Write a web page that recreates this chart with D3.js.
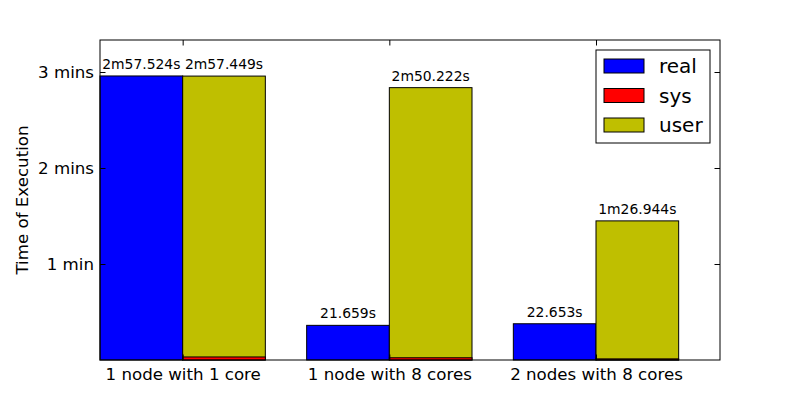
<!DOCTYPE html>
<html>
<head>
<meta charset="utf-8">
<script src="https://cdn.jsdelivr.net/npm/d3@7"></script>
<style>
  body { margin: 0; background: #fff; }
  text { font-family: "DejaVu Sans", sans-serif; }
</style>
</head>
<body>
<div id="wrapper"></div>
<script>
const categories = ["1 node with 1 core", "1 node with 8 cores", "2 nodes with 8 cores"]
const realSecs = [177.524, 21.659, 22.653]
const sysSecs = [1.9, 1.4, 0.7]
const userSecs = [177.449, 170.222, 86.944]
const realLabels = ["2m57.524s", "21.659s", "22.653s"]
const userLabels = ["2m57.449s", "2m50.222s", "1m26.944s"]
const yTicks = [60, 120, 180]
const yTickLabels = ["1 min", "2 mins", "3 mins"]
const seriesNames = ["real", "sys", "user"]
const seriesColors = ["#0000ff", "#ff0000", "#bfbf00"]

function drawChart() {
  let dimensions = {
    width: 800,
    height: 400,
    margin: { top: 40, right: 80, bottom: 40, left: 100 },
  }
  dimensions.boundedWidth = dimensions.width - dimensions.margin.left - dimensions.margin.right
  dimensions.boundedHeight = dimensions.height - dimensions.margin.top - dimensions.margin.bottom

  const wrapper = d3.select("#wrapper")
    .append("svg")
    .attr("width", dimensions.width)
    .attr("height", dimensions.height)

  const bounds = wrapper.append("g")
    .attr("transform", `translate(${dimensions.margin.left},${dimensions.margin.top})`)

  const barWidth = 0.4
  const xScale = d3.scaleLinear()
    .domain([0, categories.length])
    .range([0, dimensions.boundedWidth])
  const yScale = d3.scaleLinear()
    .domain([0, 200])
    .range([dimensions.boundedHeight, 0])

  const bw = xScale(barWidth) - xScale(0)

  // real bars
  bounds.selectAll(".real")
    .data(realSecs)
    .enter().append("rect")
    .attr("x", (d, i) => xScale(i))
    .attr("y", d => yScale(d))
    .attr("width", bw)
    .attr("height", d => yScale(0) - yScale(d))
    .attr("fill", seriesColors[0])
    .attr("stroke", "black")
    .attr("stroke-width", 1)

  // user bars
  bounds.selectAll(".user")
    .data(userSecs)
    .enter().append("rect")
    .attr("x", (d, i) => xScale(i + barWidth))
    .attr("y", d => yScale(d))
    .attr("width", bw)
    .attr("height", d => yScale(0) - yScale(d))
    .attr("fill", seriesColors[2])
    .attr("stroke", "black")
    .attr("stroke-width", 1)

  // sys bars
  bounds.selectAll(".sys")
    .data(sysSecs)
    .enter().append("rect")
    .attr("x", (d, i) => xScale(i + barWidth))
    .attr("y", d => yScale(d))
    .attr("width", bw)
    .attr("height", d => yScale(0) - yScale(d))
    .attr("fill", seriesColors[1])
    .attr("stroke", "black")
    .attr("stroke-width", 1)

  // value labels
  bounds.selectAll(".realLabel")
    .data(realSecs)
    .enter().append("text")
    .attr("x", (d, i) => xScale(i + barWidth / 2))
    .attr("y", d => yScale(d) - 7)
    .attr("text-anchor", "middle")
    .style("font-size", "13.9px")
    .text((d, i) => realLabels[i])
  bounds.selectAll(".userLabel")
    .data(userSecs)
    .enter().append("text")
    .attr("x", (d, i) => xScale(i + barWidth * 1.5))
    .attr("y", d => yScale(d) - 7)
    .attr("text-anchor", "middle")
    .style("font-size", "13.9px")
    .text((d, i) => userLabels[i])

  // frame
  bounds.append("rect")
    .attr("width", dimensions.boundedWidth)
    .attr("height", dimensions.boundedHeight)
    .attr("fill", "none")
    .attr("stroke", "black")
    .attr("stroke-width", 1)

  const tickLen = 5.5
  const xTickPos = categories.map((c, i) => i + barWidth)

  // x axis, inward ticks bottom and top
  const xAxis = bounds.append("g")
    .attr("transform", `translate(0,${dimensions.boundedHeight})`)
    .call(d3.axisBottom(xScale)
      .tickValues(xTickPos)
      .tickFormat((d, i) => categories[i])
      .tickSizeInner(-tickLen)
      .tickSizeOuter(0)
      .tickPadding(8))
  xAxis.select(".domain").remove()
  xAxis.selectAll("text").style("font-size", "16.67px").attr("fill", "black")

  const xAxisTop = bounds.append("g")
    .call(d3.axisTop(xScale).tickValues(xTickPos).tickFormat("").tickSizeInner(-tickLen).tickSizeOuter(0))
  xAxisTop.select(".domain").remove()

  // y axis
  const yAxis = bounds.append("g")
    .call(d3.axisLeft(yScale)
      .tickValues(yTicks)
      .tickFormat((d, i) => yTickLabels[i])
      .tickSizeInner(-tickLen)
      .tickSizeOuter(0)
      .tickPadding(6))
  yAxis.select(".domain").remove()
  yAxis.selectAll("text").style("font-size", "16.67px").attr("fill", "black")

  const yAxisRight = bounds.append("g")
    .attr("transform", `translate(${dimensions.boundedWidth},0)`)
    .call(d3.axisRight(yScale).tickValues(yTicks).tickFormat("").tickSizeInner(-tickLen).tickSizeOuter(0))
  yAxisRight.select(".domain").remove()

  // y label
  wrapper.append("text")
    .attr("transform", `translate(28,${dimensions.margin.top + dimensions.boundedHeight / 2}) rotate(-90)`)
    .attr("text-anchor", "middle")
    .style("font-size", "16.67px")
    .text("Time of Execution")

  // legend
  const legend = wrapper.append("g")
    .attr("transform", "translate(596,50)")
  legend.append("rect")
    .attr("width", 114)
    .attr("height", 93)
    .attr("fill", "white")
    .attr("stroke", "black")
    .attr("stroke-width", 1)
  const items = legend.selectAll(".item")
    .data(seriesNames)
    .enter().append("g")
    .attr("transform", (d, i) => `translate(8,${16 + i * 29.5})`)
  items.append("rect")
    .attr("y", -7)
    .attr("width", 40)
    .attr("height", 14)
    .attr("fill", (d, i) => seriesColors[i])
    .attr("stroke", "black")
    .attr("stroke-width", 1)
  items.append("text")
    .attr("x", 55)
    .attr("y", 7)
    .style("font-size", "20px")
    .text(d => d)
}

drawChart()
</script>
</body>
</html>
